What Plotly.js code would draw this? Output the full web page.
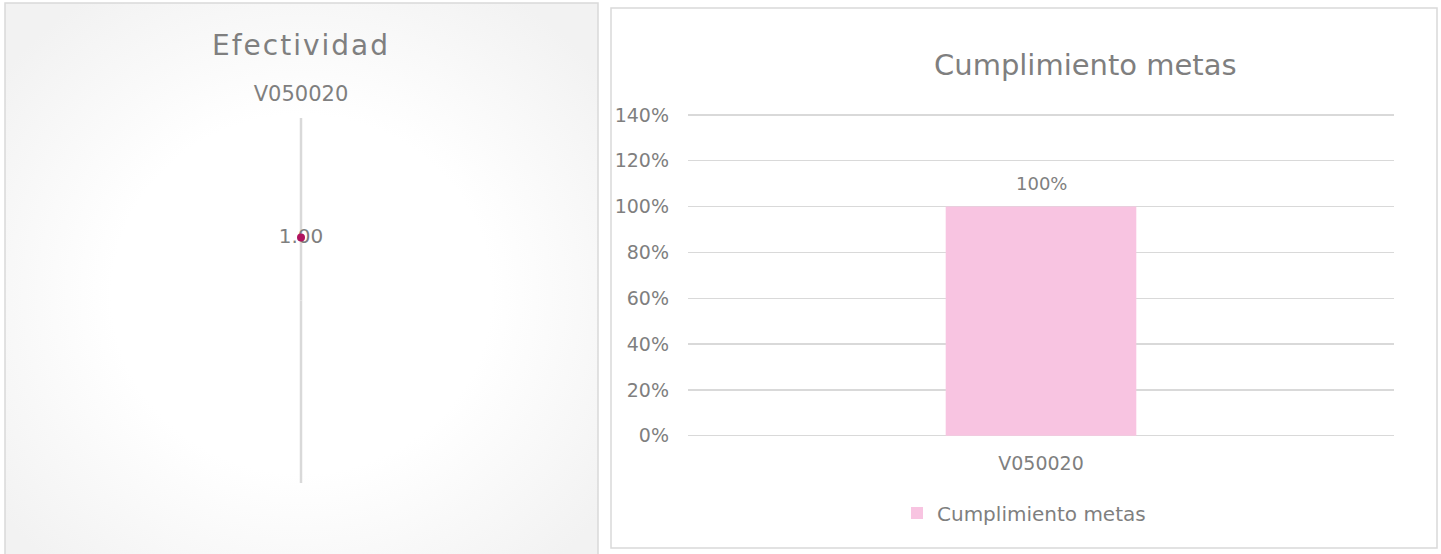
<!DOCTYPE html>
<html>
<head>
<meta charset="utf-8">
<script src="https://cdn.plot.ly/plotly-3.0.1.min.js"></script>
<style>
html,body{margin:0;padding:0;background:#ffffff;}
#chart{width:1441px;height:554px;}
</style>
</head>
<body>
<div id="chart"></div>
<script>
// ---- data ----
const efectCategories = ['V050020'];
const efectValues = [1.00];
const metasCategories = ['V050020'];
const metasValues = [1.00];
const metasSeriesName = 'Cumplimiento metas';
const leftTitle = 'Efectividad';
const rightTitle = 'Cumplimiento metas';
const yTickVals = [0, 0.2, 0.4, 0.6, 0.8, 1.0, 1.2, 1.4];

// ---- helpers / style ----
const W = 1441, H = 554;
const px = v => v / W;
const py = v => 1 - v / H;
const FONT = 'DejaVu Sans, sans-serif';
const GRAY = '#7f7f7f';
const RMAX = 2.9;

const thetas = efectCategories.map((c, i) => i * 360 / efectCategories.length);

const gradSvg = "<svg xmlns='http://www.w3.org/2000/svg' width='593' height='560' viewBox='0 0 593 560' preserveAspectRatio='none'>" +
  "<defs><radialGradient id='g' cx='50%' cy='52%' r='64%'>" +
  "<stop offset='0' stop-color='#ffffff'/><stop offset='0.5' stop-color='#ffffff'/>" +
  "<stop offset='1' stop-color='#f2f2f2'/></radialGradient></defs>" +
  "<rect width='593' height='560' fill='url(#g)'/></svg>";
const gradURI = 'data:image/svg+xml;charset=utf-8,' + encodeURIComponent(gradSvg);

const traces = [
  {
    type: 'scatterpolar', subplot: 'polar',
    r: [0, RMAX], theta: [180, 180], mode: 'lines',
    line: {color: '#d9d9d9', width: 2.5},
    hoverinfo: 'skip', showlegend: false
  },
  {
    type: 'scatterpolar', subplot: 'polar',
    r: efectValues, theta: thetas,
    mode: 'text',
    text: efectValues.map(v => v.toFixed(2)),
    textposition: 'middle center',
    textfont: {family: FONT, size: 20, color: GRAY},
    showlegend: false, cliponaxis: false
  },
  {
    type: 'scatterpolar', subplot: 'polar',
    r: efectValues, theta: thetas,
    mode: 'markers',
    marker: {size: 8, color: '#B0145F', line: {width: 0}},
    showlegend: false, cliponaxis: false
  },
  {
    type: 'bar', xaxis: 'x', yaxis: 'y',
    x: metasCategories, y: metasValues,
    name: metasSeriesName,
    marker: {color: '#F8C4E1'},
    showlegend: true
  }
];

const annotations = [
  {text: leftTitle, xref: 'paper', yref: 'paper', x: px(301), y: py(45), xanchor: 'center', yanchor: 'middle',
   showarrow: false, font: {family: FONT, size: 28, color: GRAY}},
  {text: rightTitle, xref: 'paper', yref: 'paper', x: px(1085), y: py(65), xanchor: 'center', yanchor: 'middle',
   showarrow: false, font: {family: FONT, size: 29, color: GRAY}}
].concat(metasCategories.map((c, i) => ({
  text: Math.round(metasValues[i] * 100) + '%', xref: 'x', yref: 'y', x: c, y: metasValues[i],
  xanchor: 'center', yanchor: 'bottom', yshift: 11, showarrow: false,
  font: {family: FONT, size: 18, color: GRAY}
})));

const layout = {
  width: W, height: H,
  margin: {l: 0, r: 0, t: 0, b: 0},
  paper_bgcolor: '#ffffff',
  plot_bgcolor: 'rgba(0,0,0,0)',
  font: {family: FONT, color: GRAY},
  images: [{source: gradURI, xref: 'paper', yref: 'paper', x: px(5), y: py(3),
            sizex: px(598) - px(5), sizey: py(3) - py(563), sizing: 'stretch',
            xanchor: 'left', yanchor: 'top', layer: 'below'}],
  shapes: [
    {type: 'rect', xref: 'paper', yref: 'paper', x0: px(5), x1: px(598), y0: py(3), y1: py(565),
     line: {color: '#d9d9d9', width: 1.5}, fillcolor: 'rgba(0,0,0,0)', layer: 'below'},
    {type: 'rect', xref: 'paper', yref: 'paper', x0: px(611), x1: px(1437), y0: py(8), y1: py(548),
     line: {color: '#d9d9d9', width: 1.5}, fillcolor: 'rgba(0,0,0,0)', layer: 'below'}
  ],
  polar: {
    domain: {x: [px(118.5), px(483.5)], y: [py(483), py(118)]},
    bgcolor: 'rgba(0,0,0,0)',
    radialaxis: {range: [0, RMAX], angle: 90, showline: true, linecolor: '#d9d9d9', linewidth: 2.5,
                 showticklabels: false, ticks: '', showgrid: false, layer: 'below traces'},
    angularaxis: {type: 'linear', rotation: 90, direction: 'clockwise',
                  tickmode: 'array', tickvals: thetas, ticktext: efectCategories,
                  showline: false, showgrid: false, ticks: 'outside', ticklen: 8,
                  tickcolor: 'rgba(0,0,0,0)', layer: 'below traces',
                  tickfont: {family: FONT, size: 21, color: GRAY}}
  },
  xaxis: {
    domain: [px(688), px(1394)], type: 'category',
    showgrid: false, showline: false, zeroline: false, ticks: '',
    tickfont: {family: FONT, size: 19, color: GRAY}, ticklabelstandoff: 12
  },
  yaxis: {
    domain: [py(438), py(112.7)], range: [-0.01, 1.41], tickvals: yTickVals,
    tickformat: '.0%',
    showgrid: true, gridcolor: '#d9d9d9', gridwidth: 1.3,
    showline: false, zeroline: true, zerolinecolor: '#d9d9d9', zerolinewidth: 1.3, ticks: '',
    tickfont: {family: FONT, size: 19, color: GRAY}, ticklabelstandoff: 18
  },
  bargap: 0.73,
  showlegend: true,
  legend: {orientation: 'h', x: px(1024), xanchor: 'center', y: py(513), yanchor: 'middle',
           font: {family: FONT, size: 20, color: GRAY}, bgcolor: 'rgba(0,0,0,0)'},
  annotations: annotations
};

Plotly.newPlot('chart', traces, layout, {displayModeBar: false, staticPlot: true}).then(() => {
  document.querySelectorAll('.annotation-text').forEach(t => {
    if (t.textContent === leftTitle) t.setAttribute('letter-spacing', '2px');
  });
});
</script>
</body>
</html>
